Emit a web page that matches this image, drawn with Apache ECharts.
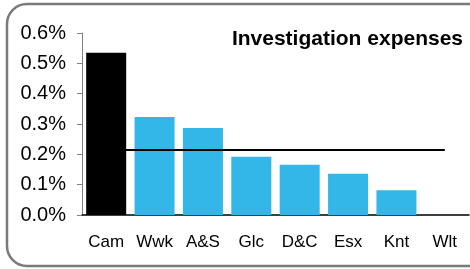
<!DOCTYPE html>
<html>
<head>
<meta charset="utf-8">
<script src="https://cdn.jsdelivr.net/npm/echarts@6/dist/echarts.min.js"></script>
<style>
    html, body { margin: 0; padding: 0; background: #fff; }
    #chart { width: 470px; height: 269px; }
</style>
</head>
<body>
<div id="chart"></div>
<script>
    // 数据
    var categories = ['Cam', 'Wwk', 'A&S', 'Glc', 'D&C', 'Esx', 'Knt', 'Wlt'];
    var expenses = [0.535, 0.323, 0.287, 0.192, 0.166, 0.136, 0.082, 0];
    var average = 0.214;
    var barColors = ['#000000', '#33b6e8', '#33b6e8', '#33b6e8', '#33b6e8', '#33b6e8', '#33b6e8', '#33b6e8'];
    var yTicks = { min: 0, max: 0.6, interval: 0.1 };

    var chart = echarts.init(document.getElementById('chart'));

    var barData = expenses.map(function (v, i) {
        return { value: v, itemStyle: { color: barColors[i] } };
    });
    var avgData = categories.map(function () { return average; });

    var option = {
        animation: false,
        backgroundColor: '#fff',
        textStyle: { fontFamily: 'Liberation Sans, Arial, sans-serif' },
        title: {
            text: 'Investigation expenses',
            right: 7,
            top: 29,
            padding: 0,
            textStyle: {
                fontSize: 21,
                fontWeight: 'bold',
                color: '#000',
                fontFamily: 'Liberation Sans, Arial, sans-serif'
            }
        },
        graphic: [{
            type: 'rect',
            shape: { x: 7, y: 4, width: 485, height: 262, r: 20 },
            style: { fill: 'none', stroke: '#7a7a7a', lineWidth: 2.5 },
            silent: true,
            z: 100
        }],
        grid: {
            left: 82,
            right: 1,
            top: 33,
            bottom: 54
        },
        xAxis: {
            type: 'category',
            data: categories,
            axisLine: { show: true, lineStyle: { color: '#000', width: 1.5 } },
            axisTick: { show: false },
            axisLabel: {
                color: '#000',
                fontSize: 17,
                margin: 19,
                interval: 0
            }
        },
        yAxis: {
            type: 'value',
            min: yTicks.min,
            max: yTicks.max,
            interval: yTicks.interval,
            axisLine: { show: true, lineStyle: { color: '#808080', width: 1 } },
            axisTick: { show: true, length: 5, lineStyle: { color: '#808080' } },
            splitLine: { show: false },
            axisLabel: {
                color: '#000',
                fontSize: 20,
                margin: 16,
                formatter: function (v) { return v.toFixed(1) + '%'; }
            }
        },
        series: [
            {
                name: 'expenses',
                type: 'bar',
                data: barData,
                barWidth: 40
            },
            {
                name: 'average',
                type: 'line',
                data: avgData,
                symbol: 'none',
                lineStyle: { color: '#000', width: 2 },
                z: 5
            }
        ]
    };

    chart.setOption(option);
</script>
</body>
</html>
